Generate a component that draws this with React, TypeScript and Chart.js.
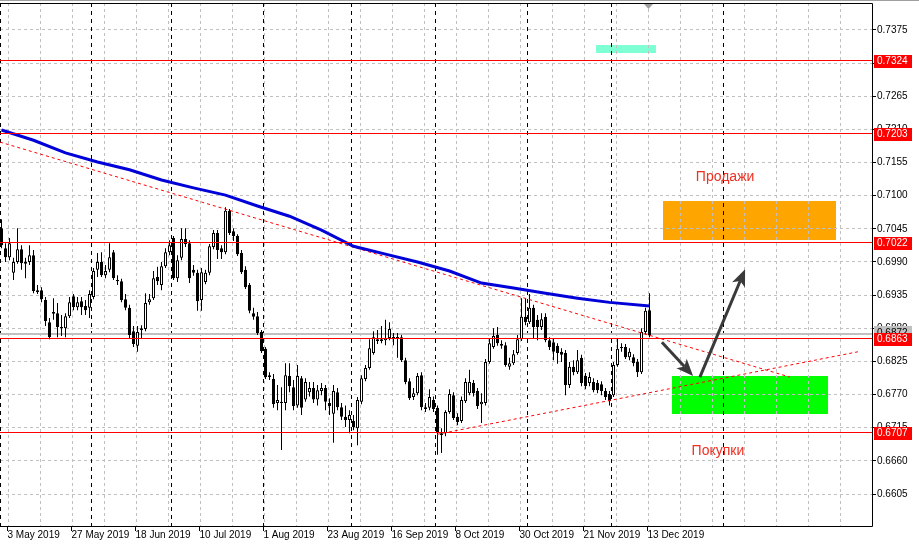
import React, { useEffect, useRef } from 'react';
import { Chart, registerables } from 'chart.js';

Chart.register(...registerables);

// ---- Daily candles (AUDUSD, 1 May 2019 .. 13 Dec 2019) ----
const opens = [
  0.7046, 0.7013, 0.6998, 0.6972, 0.6990, 0.7011, 0.6990, 0.6990, 0.7001, 0.6943,
  0.6943, 0.6927, 0.6890, 0.6904, 0.6905, 0.6882, 0.6880, 0.6900, 0.6933, 0.6915,
  0.6925, 0.6917, 0.6914, 0.6932, 0.6977, 0.6990, 0.6968, 0.6977, 0.7006, 0.6960,
  0.6958, 0.6928, 0.6914, 0.6875, 0.6851, 0.6877, 0.6879, 0.6923, 0.6930, 0.6965,
  0.6952, 0.6983, 0.7006, 0.7030, 0.6963, 0.6997, 0.7028, 0.7021, 0.6977, 0.6972,
  0.6927, 0.6957, 0.6972, 0.7015, 0.7038, 0.7013, 0.7006, 0.7075, 0.7041, 0.7033,
  0.7005, 0.6977, 0.6952, 0.6905, 0.6900, 0.6874, 0.6846, 0.6802, 0.6796, 0.6756,
  0.6758, 0.6756, 0.6801, 0.6782, 0.6752, 0.6797, 0.6762, 0.6774, 0.6781, 0.6762,
  0.6776, 0.6781, 0.6756, 0.6738, 0.6774, 0.6749, 0.6733, 0.6728, 0.6726, 0.6714,
  0.6758, 0.6796, 0.6814, 0.6839, 0.6859, 0.6859, 0.6860, 0.6864, 0.6865, 0.6865,
  0.6865, 0.6827, 0.6792, 0.6766, 0.6772, 0.6802, 0.6749, 0.6748, 0.6761, 0.6748,
  0.6703, 0.6706, 0.6741, 0.6769, 0.6733, 0.6726, 0.6759, 0.6772, 0.6789, 0.6776,
  0.6754, 0.6756, 0.6824, 0.6849, 0.6869, 0.6854, 0.6852, 0.6816, 0.6822, 0.6839,
  0.6862, 0.6899, 0.6890, 0.6914, 0.6894, 0.6882, 0.6899, 0.6860, 0.6857, 0.6851,
  0.6841, 0.6839, 0.6786, 0.6816, 0.6807, 0.6831, 0.6801, 0.6789, 0.6791, 0.6789,
  0.6787, 0.6776, 0.6771, 0.6769, 0.6819, 0.6849, 0.6849, 0.6832, 0.6832, 0.6824,
  0.6807, 0.6874, 0.6910,
];
const highs = [
  0.7061, 0.7021, 0.7030, 0.6997, 0.7046, 0.7018, 0.6997, 0.7018, 0.7010, 0.6952,
  0.6948, 0.6932, 0.6897, 0.6930, 0.6922, 0.6902, 0.6905, 0.6932, 0.6937, 0.6932,
  0.6932, 0.6927, 0.6943, 0.6980, 0.7005, 0.7006, 0.6985, 0.7021, 0.7010, 0.6968,
  0.6962, 0.6937, 0.6919, 0.6884, 0.6884, 0.6885, 0.6938, 0.6937, 0.6975, 0.6982,
  0.6990, 0.7013, 0.7026, 0.7033, 0.7001, 0.7046, 0.7046, 0.7026, 0.6985, 0.6977,
  0.6980, 0.6977, 0.7020, 0.7043, 0.7043, 0.7018, 0.7081, 0.7078, 0.7046, 0.7036,
  0.7010, 0.6983, 0.6955, 0.6914, 0.6907, 0.6877, 0.6849, 0.6807, 0.6804, 0.6786,
  0.6782, 0.6822, 0.6822, 0.6794, 0.6819, 0.6801, 0.6797, 0.6791, 0.6791, 0.6786,
  0.6789, 0.6786, 0.6764, 0.6786, 0.6781, 0.6756, 0.6752, 0.6744, 0.6736, 0.6766,
  0.6802, 0.6819, 0.6862, 0.6875, 0.6877, 0.6884, 0.6894, 0.6890, 0.6872, 0.6872,
  0.6869, 0.6831, 0.6797, 0.6781, 0.6806, 0.6807, 0.6756, 0.6779, 0.6767, 0.6752,
  0.6714, 0.6744, 0.6779, 0.6774, 0.6739, 0.6767, 0.6797, 0.6811, 0.6794, 0.6781,
  0.6772, 0.6829, 0.6864, 0.6880, 0.6882, 0.6860, 0.6857, 0.6831, 0.6844, 0.6869,
  0.6930, 0.6930, 0.6937, 0.6919, 0.6902, 0.6905, 0.6905, 0.6865, 0.6864, 0.6855,
  0.6847, 0.6844, 0.6824, 0.6827, 0.6844, 0.6836, 0.6806, 0.6807, 0.6797, 0.6794,
  0.6792, 0.6781, 0.6776, 0.6824, 0.6864, 0.6855, 0.6854, 0.6847, 0.6837, 0.6829,
  0.6880, 0.6914, 0.6938,
];
const lows = [
  0.7013, 0.6990, 0.6993, 0.6960, 0.6987, 0.6977, 0.6963, 0.6985, 0.6938, 0.6937,
  0.6923, 0.6884, 0.6862, 0.6894, 0.6865, 0.6867, 0.6865, 0.6897, 0.6910, 0.6910,
  0.6902, 0.6902, 0.6897, 0.6928, 0.6965, 0.6965, 0.6963, 0.6973, 0.6960, 0.6952,
  0.6923, 0.6910, 0.6864, 0.6849, 0.6841, 0.6864, 0.6875, 0.6919, 0.6927, 0.6952,
  0.6943, 0.6980, 0.7001, 0.6960, 0.6957, 0.6993, 0.7015, 0.6955, 0.6967, 0.6909,
  0.6909, 0.6953, 0.6968, 0.7011, 0.6995, 0.6995, 0.7003, 0.7035, 0.7025, 0.7000,
  0.6970, 0.6945, 0.6905, 0.6894, 0.6869, 0.6839, 0.6796, 0.6794, 0.6748, 0.6744,
  0.6678, 0.6744, 0.6774, 0.6744, 0.6748, 0.6736, 0.6758, 0.6767, 0.6756, 0.6752,
  0.6769, 0.6744, 0.6736, 0.6690, 0.6744, 0.6728, 0.6716, 0.6706, 0.6711, 0.6686,
  0.6754, 0.6792, 0.6811, 0.6836, 0.6854, 0.6855, 0.6852, 0.6860, 0.6852, 0.6831,
  0.6824, 0.6787, 0.6761, 0.6761, 0.6769, 0.6744, 0.6741, 0.6744, 0.6741, 0.6670,
  0.6673, 0.6701, 0.6738, 0.6728, 0.6719, 0.6723, 0.6756, 0.6769, 0.6767, 0.6746,
  0.6723, 0.6752, 0.6821, 0.6846, 0.6851, 0.6846, 0.6816, 0.6811, 0.6819, 0.6836,
  0.6859, 0.6885, 0.6887, 0.6864, 0.6860, 0.6877, 0.6857, 0.6844, 0.6827, 0.6821,
  0.6824, 0.6769, 0.6781, 0.6802, 0.6804, 0.6784, 0.6779, 0.6784, 0.6774, 0.6772,
  0.6769, 0.6761, 0.6752, 0.6766, 0.6816, 0.6841, 0.6829, 0.6827, 0.6817, 0.6799,
  0.6804, 0.6870, 0.6865,
];
const closes = [
  0.7018, 0.6998, 0.7021, 0.6990, 0.7011, 0.6988, 0.6987, 0.7001, 0.6942, 0.6940,
  0.6928, 0.6892, 0.6865, 0.6907, 0.6882, 0.6880, 0.6900, 0.6923, 0.6915, 0.6923,
  0.6915, 0.6910, 0.6937, 0.6975, 0.6990, 0.6968, 0.6975, 0.6998, 0.6963, 0.6958,
  0.6927, 0.6914, 0.6869, 0.6854, 0.6874, 0.6880, 0.6922, 0.6928, 0.6963, 0.6958,
  0.6983, 0.7006, 0.7018, 0.6963, 0.6993, 0.7028, 0.7020, 0.6963, 0.6972, 0.6925,
  0.6973, 0.6972, 0.7016, 0.7038, 0.7010, 0.7006, 0.7075, 0.7038, 0.7033, 0.7003,
  0.6973, 0.6948, 0.6909, 0.6899, 0.6872, 0.6842, 0.6799, 0.6799, 0.6754, 0.6761,
  0.6756, 0.6802, 0.6784, 0.6751, 0.6801, 0.6748, 0.6791, 0.6781, 0.6762, 0.6777,
  0.6781, 0.6758, 0.6751, 0.6776, 0.6749, 0.6733, 0.6728, 0.6736, 0.6716, 0.6761,
  0.6797, 0.6814, 0.6847, 0.6865, 0.6862, 0.6862, 0.6864, 0.6879, 0.6864, 0.6864,
  0.6827, 0.6791, 0.6764, 0.6772, 0.6801, 0.6749, 0.6746, 0.6766, 0.6746, 0.6706,
  0.6706, 0.6741, 0.6771, 0.6731, 0.6724, 0.6761, 0.6791, 0.6791, 0.6772, 0.6751,
  0.6758, 0.6824, 0.6855, 0.6867, 0.6855, 0.6851, 0.6819, 0.6822, 0.6837, 0.6862,
  0.6899, 0.6890, 0.6914, 0.6882, 0.6882, 0.6895, 0.6860, 0.6849, 0.6841, 0.6839,
  0.6836, 0.6786, 0.6816, 0.6807, 0.6827, 0.6789, 0.6784, 0.6799, 0.6777, 0.6777,
  0.6776, 0.6766, 0.6759, 0.6819, 0.6846, 0.6847, 0.6832, 0.6841, 0.6822, 0.6807,
  0.6874, 0.6909, 0.6869,
];

// ---- Moving average (read at intervals) ----
const maIndex = [0, 8, 16, 24, 32, 40, 48, 56, 64, 72, 80, 88, 96, 104, 112, 120, 128, 136, 144, 152, 162];
const maValues = [
  0.7209, 0.7192, 0.7171, 0.7156, 0.7143, 0.7126, 0.7113, 0.7101, 0.7083, 0.7066,
  0.7043, 0.7016, 0.7003, 0.6990, 0.6975, 0.6955, 0.6947, 0.6938, 0.6930, 0.6923, 0.6917,
];

// ---- Axis ----
const xTickCandles = [2, 18, 34, 50, 66, 82, 98, 114, 130, 146, 162];
const xTickLabels = [
  '3 May 2019', '27 May 2019', '18 Jun 2019', '10 Jul 2019', '1 Aug 2019', '23 Aug 2019',
  '16 Sep 2019', '8 Oct 2019', '30 Oct 2019', '21 Nov 2019', '13 Dec 2019',
];
const gridCandles = Array.from({ length: 27 }, (_, k) => 2 + 8 * k);
const monthSeparators = [0, 23, 43, 66, 88, 109, 132, 153, 181];
const yTicks = [
  0.6605, 0.6660, 0.6715, 0.6770, 0.6825, 0.6880, 0.6935, 0.6990,
  0.7045, 0.7100, 0.7155, 0.7210, 0.7265, 0.7320, 0.7375,
];
const yMin = 0.65519;
const yMax = 0.74198;
const xMin = -0.375;
const xMax = 217.625;

// ---- Objects ----
const levels = [0.7324, 0.7203, 0.7022, 0.6863, 0.6707];
const bidPrice = 0.6869;
const askPrice = 0.6872;
const trendDown = [{ x: -0.375, y: 0.7189 }, { x: 197.1, y: 0.6799 }];
const trendUp = [{ x: 108.9, y: 0.6704 }, { x: 214.1, y: 0.6841 }];
const rects = [
  { x1: 148.6, x2: 163.6, y1: 0.7350, y2: 0.7337, color: '#7FFFD4' },
  { x1: 165.4, x2: 208.6, y1: 0.7091, y2: 0.7026, color: '#FFA500' },
  { x1: 167.6, x2: 206.6, y1: 0.6801, y2: 0.6738, color: '#00FF00' },
];
const arrows = [
  { x1: 165.1, y1: 0.6857, x2: 172.9, y2: 0.6801 },
  { x1: 174.6, y1: 0.6799, x2: 185.9, y2: 0.6978 },
];
const notes = [
  { text: 'Продажи', x: 180.9, y: 0.7131 },
  { text: 'Покупки', x: 179.1, y: 0.6676 },
];
const shiftMarker = 161.75;

const FONT = '10px "Liberation Sans", Arial, sans-serif';

function fl(v: number) {
  return Math.floor(v) + 0.5;
}

function drawArrow(ctx: CanvasRenderingContext2D, x1: number, y1: number, x2: number, y2: number) {
  const ang = Math.atan2(y2 - y1, x2 - x1);
  const cos = Math.cos(ang);
  const sin = Math.sin(ang);
  const headLen = 17;
  const headW = 7;
  const bx = x2 - cos * headLen * 0.75;
  const by = y2 - sin * headLen * 0.75;
  ctx.strokeStyle = '#3a3a3a';
  ctx.fillStyle = '#3a3a3a';
  ctx.lineWidth = 3;
  ctx.beginPath();
  ctx.moveTo(x1, y1);
  ctx.lineTo(bx, by);
  ctx.stroke();
  const hx = x2 - cos * headLen;
  const hy = y2 - sin * headLen;
  ctx.beginPath();
  ctx.moveTo(x2, y2);
  ctx.lineTo(hx - sin * headW, hy + cos * headW);
  ctx.lineTo(bx, by);
  ctx.lineTo(hx + sin * headW, hy - cos * headW);
  ctx.closePath();
  ctx.fill();
}

const mtPlugin = {
  id: 'mtPlugin',
  beforeDatasetsDraw(chart: any) {
    const { ctx, chartArea: a, scales } = chart;
    const xs = scales.x;
    const ys = scales.y;
    ctx.save();
    ctx.beginPath();
    ctx.rect(a.left, a.top, a.right - a.left, a.bottom - a.top);
    ctx.clip();
    // rectangles (background objects)
    rects.forEach((r) => {
      const x1 = Math.round(xs.getPixelForValue(r.x1));
      const x2 = Math.round(xs.getPixelForValue(r.x2));
      const y1 = Math.round(ys.getPixelForValue(r.y1));
      const y2 = Math.round(ys.getPixelForValue(r.y2));
      ctx.fillStyle = r.color;
      ctx.fillRect(x1, y1, x2 - x1, y2 - y1);
    });
    // grid
    ctx.lineWidth = 1;
    ctx.strokeStyle = '#C0C0C0';
    ctx.setLineDash([3, 3]);
    yTicks.forEach((v) => {
      const y = fl(ys.getPixelForValue(v));
      ctx.beginPath();
      ctx.moveTo(a.left, y);
      ctx.lineTo(a.right, y);
      ctx.stroke();
    });
    gridCandles.forEach((c) => {
      const x = fl(xs.getPixelForValue(c) - 1);
      if (x > a.right) return;
      ctx.beginPath();
      ctx.moveTo(x, a.top);
      ctx.lineTo(x, a.bottom);
      ctx.stroke();
    });
    ctx.strokeStyle = '#000000';
    ctx.setLineDash([4, 4]);
    monthSeparators.forEach((c) => {
      const x = Math.max(0.5, fl(xs.getPixelForValue(c) - 2));
      ctx.beginPath();
      ctx.moveTo(x, a.top);
      ctx.lineTo(x, a.bottom);
      ctx.stroke();
    });
    ctx.setLineDash([]);
    // bid / ask lines
    ctx.strokeStyle = '#C0C0C0';
    [bidPrice, askPrice].forEach((v) => {
      const y = fl(ys.getPixelForValue(v));
      ctx.beginPath();
      ctx.moveTo(a.left, y);
      ctx.lineTo(a.right, y);
      ctx.stroke();
    });
    ctx.restore();
  },
  afterDatasetsDraw(chart: any) {
    const { ctx, chartArea: a, scales } = chart;
    const xs = scales.x;
    const ys = scales.y;
    ctx.save();
    ctx.beginPath();
    ctx.rect(a.left, a.top, a.right - a.left, a.bottom - a.top);
    ctx.clip();
    // horizontal levels
    ctx.strokeStyle = '#FF0000';
    ctx.lineWidth = 1;
    levels.forEach((v) => {
      const y = fl(ys.getPixelForValue(v));
      ctx.beginPath();
      ctx.moveTo(a.left, y);
      ctx.lineTo(a.right, y);
      ctx.stroke();
    });
    // arrows
    arrows.forEach((r) => {
      drawArrow(
        ctx,
        xs.getPixelForValue(r.x1), ys.getPixelForValue(r.y1),
        xs.getPixelForValue(r.x2), ys.getPixelForValue(r.y2),
      );
    });
    // texts
    ctx.fillStyle = '#F02E22';
    ctx.font = '14px "Liberation Sans", Arial, sans-serif';
    ctx.textAlign = 'center';
    ctx.textBaseline = 'middle';
    notes.forEach((n) => {
      ctx.fillText(n.text, xs.getPixelForValue(n.x), ys.getPixelForValue(n.y));
    });
    ctx.restore();
    // shift marker
    const sx = xs.getPixelForValue(shiftMarker);
    ctx.fillStyle = '#A0A0A0';
    ctx.beginPath();
    ctx.moveTo(sx - 4.5, a.top + 1);
    ctx.lineTo(sx + 4.5, a.top + 1);
    ctx.lineTo(sx, a.top + 6);
    ctx.closePath();
    ctx.fill();
    // frame
    ctx.strokeStyle = '#000000';
    ctx.lineWidth = 1;
    ctx.beginPath();
    ctx.moveTo(a.left, a.top + 0.5);
    ctx.lineTo(a.right + 0.5, a.top + 0.5);
    ctx.lineTo(a.right + 0.5, a.bottom + 0.5);
    ctx.lineTo(a.left, a.bottom + 0.5);
    ctx.stroke();
  },
  afterDraw(chart: any) {
    const { ctx, chartArea: a, scales } = chart;
    const xs = scales.x;
    const ys = scales.y;
    ctx.save();
    ctx.fillStyle = '#A0A0A0';
    ctx.fillRect(0, 0, chart.width, 1);
    ctx.strokeStyle = '#000000';
    ctx.lineWidth = 1;
    // y tick marks
    yTicks.forEach((v) => {
      const y = fl(ys.getPixelForValue(v));
      ctx.beginPath();
      ctx.moveTo(a.right, y);
      ctx.lineTo(a.right + 4, y);
      ctx.stroke();
    });
    // x tick marks
    xTickCandles.forEach((c) => {
      const x = fl(xs.getPixelForValue(c) - 2);
      ctx.beginPath();
      ctx.moveTo(x, a.bottom);
      ctx.lineTo(x, a.bottom + 5);
      ctx.stroke();
    });
    ctx.font = FONT;
    ctx.textAlign = 'left';
    ctx.textBaseline = 'middle';
    // bid label (gray)
    const by = Math.round(ys.getPixelForValue(askPrice));
    ctx.fillStyle = '#C0C0C0';
    ctx.fillRect(a.right + 2, by - 7, 38, 13);
    ctx.fillStyle = '#000000';
    ctx.fillText(askPrice.toFixed(4), a.right + 5, by);
    // level labels (red)
    levels.forEach((v) => {
      const y = Math.round(ys.getPixelForValue(v));
      ctx.fillStyle = '#FF0000';
      ctx.fillRect(a.right + 2, y - 6, 38, 13);
      ctx.fillStyle = '#FFFFFF';
      ctx.fillText(v.toFixed(4), a.right + 5, y + 0.5);
    });
    ctx.restore();
  },
};

export default function App() {
  const ref = useRef<HTMLCanvasElement>(null);
  useEffect(() => {
    const canvas = ref.current;
    if (!canvas) return;
    const idx = opens.map((_, i) => i);
    const bodies = idx.map((i) => ({
      x: i,
      y: [Math.min(opens[i], closes[i]), Math.max(opens[i], closes[i])],
    }));
    const wicks = idx.map((i) => ({ x: i, y: [lows[i], highs[i]] }));
    const bodyFill = idx.map((i) => (closes[i] >= opens[i] ? '#FFFFFF' : '#000000'));
    const ma = maIndex.map((x, i) => ({ x, y: maValues[i] }));

    const chart = new Chart(canvas, {
      type: 'bar',
      data: {
        datasets: [
          {
            type: 'line',
            data: ma,
            borderColor: '#0000D8',
            borderWidth: 3,
            pointRadius: 0,
            tension: 0,
          } as any,
          {
            type: 'line',
            data: trendDown,
            borderColor: '#FF0000',
            borderWidth: 1,
            borderDash: [3, 3],
            pointRadius: 0,
          } as any,
          {
            type: 'line',
            data: trendUp,
            borderColor: '#FF0000',
            borderWidth: 1,
            borderDash: [3, 3],
            pointRadius: 0,
          } as any,
          {
            type: 'bar',
            data: bodies,
            backgroundColor: bodyFill,
            borderColor: '#000000',
            borderWidth: 1,
            borderSkipped: false,
            barThickness: 3,
            grouped: false,
            minBarLength: 1,
            inflateAmount: 0,
          } as any,
          {
            type: 'bar',
            data: wicks,
            backgroundColor: '#000000',
            borderWidth: 0,
            barThickness: 1,
            grouped: false,
            inflateAmount: 0,
          } as any,
        ],
      },
      options: {
        responsive: false,
        devicePixelRatio: 1,
        animation: false,
        events: [],
        layout: { padding: { top: 3, left: 0, right: 0, bottom: 0 } },
        plugins: { legend: { display: false }, tooltip: { enabled: false } },
        scales: {
          x: {
            type: 'linear',
            position: 'bottom',
            min: xMin,
            max: xMax,
            offset: false,
            grid: { display: false, drawTicks: false },
            border: { display: false },
            ticks: {
              autoSkip: false,
              maxRotation: 0,
              minRotation: 0,
              align: 'start',
              padding: 3,
              color: '#000000',
              font: { family: '"Liberation Sans", Arial, sans-serif', size: 10 },
              callback: (_v: any, i: number) => xTickLabels[i],
            },
            afterBuildTicks: (s: any) => {
              s.ticks = xTickCandles.map((c) => ({ value: c - 0.5 }));
            },
            afterFit: (s: any) => {
              s.height = 19;
              s.paddingLeft = 0;
              s.paddingRight = 0;
            },
          },
          y: {
            type: 'linear',
            position: 'right',
            min: yMin,
            max: yMax,
            grid: { display: false, drawTicks: false },
            border: { display: false },
            ticks: {
              autoSkip: false,
              padding: 5,
              color: '#000000',
              font: { family: '"Liberation Sans", Arial, sans-serif', size: 10 },
              callback: (v: any) => Number(v).toFixed(4),
            },
            afterBuildTicks: (s: any) => {
              s.ticks = yTicks.map((v) => ({ value: v }));
            },
            afterFit: (s: any) => {
              s.width = 47;
              s.paddingTop = 0;
              s.paddingBottom = 0;
            },
          },
        },
      } as any,
      plugins: [mtPlugin],
    });
    return () => chart.destroy();
  }, []);
  return (
    <canvas
      ref={ref}
      width={919}
      height={545}
      style={{ position: 'absolute', left: 0, top: 0, width: 919, height: 545, background: '#FFFFFF' }}
    />
  );
}
